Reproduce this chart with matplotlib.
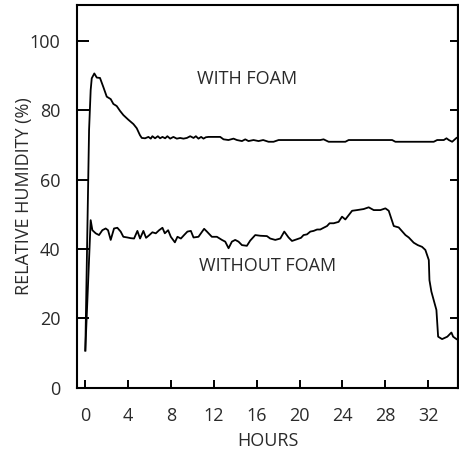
# plot.py
# Relative humidity over time, with and without foam.
# Values.

import matplotlib
matplotlib.use("Agg")
import matplotlib.pyplot as plt


# ─────────────────────────────────────────────
# DATA
# ─────────────────────────────────────────────
hours_with = [0.0, 0.35, 0.5, 0.6, 0.84, 1.07, 1.37, 1.68, 2.0, 2.37, 2.62, 2.93,
              3.24, 3.55, 4.0, 4.49, 4.8, 5.1, 5.27, 5.58, 5.89, 6.11, 6.26, 6.51,
              6.77, 6.98, 7.2, 7.45, 7.66, 7.92, 8.22, 8.54, 8.85, 9.16, 9.48, 9.79,
              10.1, 10.32, 10.56, 10.81, 11.03, 11.25, 11.5, 12.12, 12.59, 12.9,
              13.36, 13.83, 14.15, 14.62, 14.93, 15.23, 15.7, 16.17, 16.6, 17.1,
              17.57, 18.04, 21.93, 22.24, 22.71, 24.27, 24.58, 28.64, 28.94, 32.52,
              32.84, 33.46, 33.71, 33.93, 34.24, 34.64]
rh_with = [10.7, 74.3, 85.8, 89.2, 90.6, 89.4, 89.3, 86.7, 83.9, 83.2, 81.8, 81.2,
           79.8, 78.6, 77.3, 76.0, 74.8, 72.8, 72.0, 71.9, 72.3, 71.8, 72.5, 71.9,
           72.5, 71.9, 72.3, 71.9, 72.5, 71.8, 72.3, 71.8, 72.0, 71.8, 72.0, 72.5,
           72.0, 72.5, 71.8, 72.3, 71.8, 72.2, 72.3, 72.3, 72.3, 71.6,
           71.4, 71.8, 71.4, 71.1, 71.6, 71.1, 71.4, 71.1, 71.4, 70.9,
           70.9, 71.4, 71.4, 71.6, 70.9, 70.9, 71.4, 71.4, 70.9, 70.9,
           71.4, 71.4, 71.9, 71.4, 70.9, 72.0]

hours_without = [0.0, 0.5, 0.66, 0.97, 1.28, 1.59, 1.9, 2.12, 2.37, 2.68, 2.99, 3.3,
                 3.55, 3.93, 4.24, 4.55, 4.86, 5.11, 5.42, 5.67, 5.98, 6.26, 6.58,
                 6.89, 7.2, 7.42, 7.73, 7.98, 8.36, 8.6, 8.92, 9.22, 9.53, 9.85,
                 10.1, 10.56, 11.09, 11.35, 11.81, 12.28, 12.75, 13.06, 13.37, 13.68,
                 13.99, 14.3, 14.62, 15.08, 15.39, 15.86, 16.33, 16.95, 17.26, 17.73,
                 18.2, 18.57, 18.97, 19.29, 19.76, 20.13, 20.37, 20.69, 21.0, 21.31,
                 21.63, 21.93, 22.24, 22.56, 22.8, 23.18, 23.64, 23.96, 24.27, 24.9,
                 25.36, 25.98, 26.45, 26.92, 27.54, 28.01, 28.32, 28.79, 29.25, 29.88,
                 30.19, 30.65, 31.03, 31.43, 31.74, 32.06, 32.12, 32.3, 32.77, 32.93,
                 33.3, 33.79, 34.17, 34.33, 34.64]
rh_without = [10.7, 48.3, 45.4, 44.5, 44.0, 45.4, 45.9, 45.4, 42.6, 45.9, 46.1, 45.0,
              43.5, 43.3, 43.1, 43.0, 45.2, 43.0, 45.2, 43.2, 44.0, 44.8, 44.5,
              45.4, 46.1, 44.5, 45.4, 43.5, 41.9, 43.5, 43.0, 44.0, 45.0, 45.2,
              43.3, 43.5, 45.8, 45.0, 43.5, 43.5, 42.6, 42.1, 40.2, 42.1,
              42.6, 42.1, 41.1, 40.9, 42.4, 44.0, 43.8, 43.7, 43.0, 42.6,
              43.0, 45.0, 43.3, 42.3, 42.8, 43.2, 44.0, 44.2, 45.0, 45.2,
              45.6, 45.6, 46.1, 46.6, 47.4, 47.4, 47.8, 49.3, 48.5, 51.0,
              51.2, 51.5, 52.0, 51.2, 51.2, 51.7, 51.0, 46.6, 46.2, 44.0,
              43.3, 41.8, 41.1, 40.6, 39.7, 36.8, 31.0, 27.7, 22.4, 14.7,
              14.0, 14.7, 15.9, 14.7, 14.0]

x_ticks = [0, 4, 8, 12, 16, 20, 24, 28, 32]
y_ticks = [0, 20, 40, 60, 80, 100]

TEXT_COLOR = "#2a2a2a"
FONT = ["Open Sans", "DejaVu Sans"]
FS = 13


# ─────────────────────────────────────────────
# FIGURE
# ─────────────────────────────────────────────
plt.rcParams["font.family"] = FONT

fig = plt.figure(figsize=(4.6, 4.55), dpi=100)
ax = fig.add_axes([0.168, 0.148, 0.828, 0.840])

ax.plot(hours_with, rh_with, color="black", lw=1.3)
ax.plot(hours_without, rh_without, color="black", lw=1.3)

ax.text(15.1, 88.9, "WITH FOAM", ha="center", va="center",
        fontsize=FS, color=TEXT_COLOR)
ax.text(17.0, 35.0, "WITHOUT FOAM", ha="center", va="center",
        fontsize=FS, color=TEXT_COLOR)

ax.set_xlim(-0.75, 34.8)
ax.set_ylim(0, 110.2)
ax.set_xticks(x_ticks)
ax.set_yticks(y_ticks)

# ── ticks: inward, longer on the left side ──
ax.tick_params(axis="x", direction="in", length=6, width=1.4, pad=14,
               labelsize=FS, labelcolor=TEXT_COLOR)
ax.tick_params(axis="y", direction="in", length=8.5, width=1.4, pad=12,
               labelsize=FS, labelcolor=TEXT_COLOR)

right = ax.secondary_yaxis("right")
right.set_yticks(y_ticks)
right.tick_params(direction="in", length=6, width=1.4, labelright=False)
right.spines["right"].set_linewidth(1.5)

for side in ax.spines.values():
    side.set_linewidth(1.5)

# x label placed by hand so it stays inside the figure
fig.text(0.582, 0.030, "HOURS", ha="center", va="center",
         fontsize=FS, color=TEXT_COLOR)
fig.text(0.052, 0.568, "RELATIVE HUMIDITY (%)", rotation=90,
         ha="center", va="center", fontsize=FS, color=TEXT_COLOR)

fig.savefig("out.png", dpi=100)
